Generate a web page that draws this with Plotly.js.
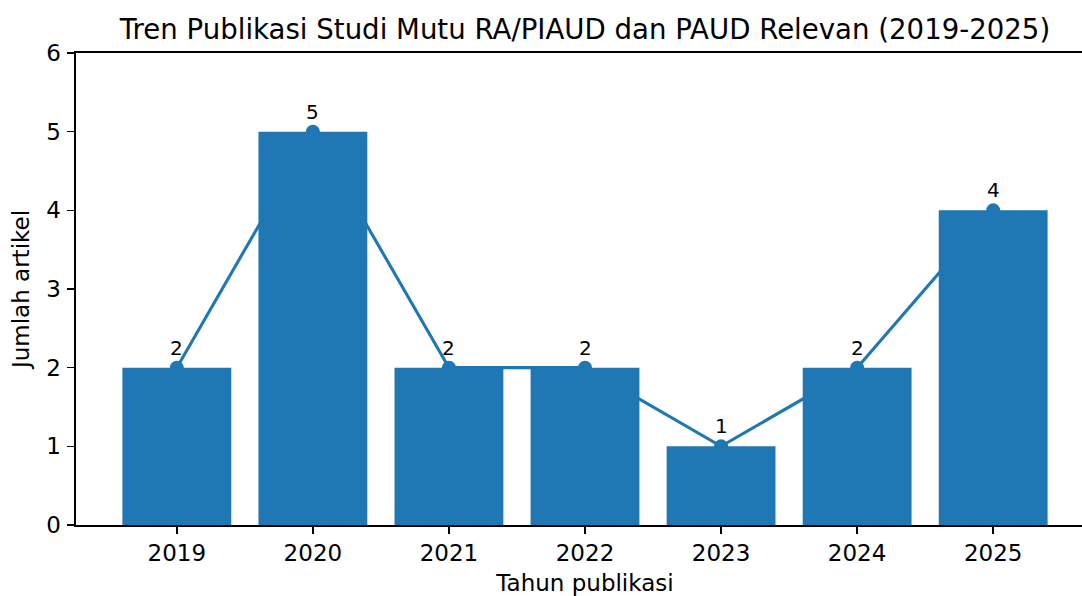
<!DOCTYPE html>
<html>
<head>
<meta charset="utf-8">
<script src="https://cdn.plot.ly/plotly-3.0.1.min.js"></script>
<style>
  html, body { margin: 0; padding: 0; overflow: hidden; background: #fff; }
  #chart { width: 1094px; height: 596px; }
</style>
</head>
<body>
<div id="chart"></div>
<script>
// Data
const years = [2019, 2020, 2021, 2022, 2023, 2024, 2025];
const yearLabels = ["2019", "2020", "2021", "2022", "2023", "2024", "2025"];
const counts = [2, 5, 2, 2, 1, 2, 4];
const yTicks = [0, 1, 2, 3, 4, 5, 6];

const titleText = "Tren Publikasi Studi Mutu RA/PIAUD dan PAUD Relevan (2019-2025)";
const xTitle = "Tahun publikasi";
const yTitle = "Jumlah artikel";

const blue = "#1f77b4";
const font = "DejaVu Sans, Liberation Sans, sans-serif";
const xRange = [2018.259, 2025.741];
const yRange = [0, 6];

// line + markers drawn underneath the bars (main subplot)
const lineTrace = {
  type: "scatter",
  mode: "lines+markers",
  x: years,
  y: counts,
  xaxis: "x",
  yaxis: "y",
  line: { color: blue, width: 3.1 },
  marker: { color: blue, size: 14 },
  hoverinfo: "skip",
  showlegend: false
};

// bars on an overlaid subplot so they sit on top of the line
const barTrace = {
  type: "bar",
  x: years,
  y: counts,
  xaxis: "x2",
  yaxis: "y2",
  marker: { color: blue, line: { width: 0 } },
  showlegend: false
};

const annotations = years.map((yr, i) => ({
  x: yr,
  y: counts[i],
  xref: "x2",
  yref: "y2",
  text: String(counts[i]),
  showarrow: false,
  yanchor: "bottom",
  xanchor: "center",
  yshift: 6,
  font: { family: font, size: 20, color: "#000" }
}));

const layout = {
  width: 1094,
  height: 596,
  margin: { l: 76, r: 0, t: 53, b: 71, pad: 0 },
  paper_bgcolor: "#fff",
  plot_bgcolor: "#fff",
  font: { family: font, color: "#000" },
  showlegend: false,
  bargap: 0.2,
  title: {
    text: titleText,
    font: { family: font, size: 27.6, color: "#000" },
    x: 0.5,
    xref: "paper",
    xanchor: "center",
    y: 1 - 29 / 596,
    yref: "container",
    yanchor: "middle"
  },
  xaxis: {
    range: xRange,
    tickmode: "array",
    tickvals: years,
    ticktext: yearLabels,
    ticks: "outside",
    ticklen: 7,
    tickwidth: 1.6,
    tickcolor: "#000",
    showline: true,
    linecolor: "#000",
    linewidth: 1.6,
    mirror: true,
    showgrid: false,
    zeroline: false,
    automargin: false,
    tickfont: { family: font, size: 23, color: "#000" },
    title: { text: xTitle, font: { family: font, size: 23, color: "#000" }, standoff: 9 }
  },
  yaxis: {
    range: yRange,
    tickmode: "array",
    tickvals: yTicks,
    ticktext: yTicks.map(String),
    ticks: "outside",
    ticklen: 7,
    tickwidth: 1.6,
    tickcolor: "#000",
    showline: true,
    linecolor: "#000",
    linewidth: 1.6,
    mirror: false,
    showgrid: false,
    zeroline: false,
    automargin: false,
    ticklabelstandoff: 2,
    tickfont: { family: font, size: 23, color: "#000" },
    title: { text: yTitle, font: { family: font, size: 23, color: "#000" }, standoff: 10 }
  },
  xaxis2: {
    overlaying: "x",
    range: xRange,
    visible: false,
    showgrid: false,
    zeroline: false
  },
  yaxis2: {
    overlaying: "y",
    range: yRange,
    visible: false,
    showgrid: false,
    zeroline: false
  },
  annotations: annotations
};

Plotly.newPlot("chart", [lineTrace, barTrace], layout, { staticPlot: true, displayModeBar: false });
</script>
</body>
</html>
